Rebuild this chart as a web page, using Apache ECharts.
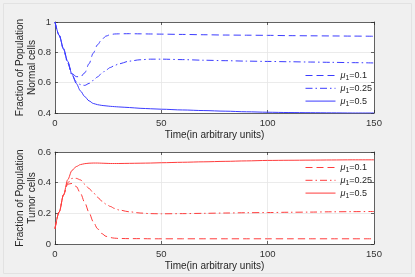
<!DOCTYPE html>
<html>
<head>
<meta charset="utf-8">
<script src="https://cdn.jsdelivr.net/npm/echarts@6/dist/echarts.min.js"></script>
<style>html,body{margin:0;padding:0;background:#f0f0f0;}#c{width:415px;height:277px;}</style>
</head>
<body>
<div id="c"></div>
<script>
var time = [0,2,4,6,8,10,12,14,16,18,20,22,24,26,28,30,35,40,45,50,60,70,80,90,100,110,120,130,140,150];
var normalMu01  = [1.0,0.91,0.82,0.73,0.66,0.64,0.638,0.665,0.725,0.795,0.85,0.885,0.907,0.917,0.921,0.922,0.923,0.922,0.921,0.92,0.918,0.916,0.914,0.913,0.912,0.91,0.909,0.908,0.907,0.906];
var normalMu025 = [1.0,0.91,0.82,0.73,0.65,0.605,0.587,0.582,0.595,0.615,0.638,0.662,0.683,0.70,0.713,0.724,0.742,0.751,0.755,0.755,0.752,0.748,0.745,0.742,0.74,0.738,0.736,0.734,0.732,0.73];
var normalMu05  = [1.0,0.913,0.826,0.74,0.655,0.595,0.545,0.508,0.48,0.463,0.455,0.45,0.447,0.444,0.442,0.44,0.436,0.431,0.428,0.425,0.42,0.416,0.412,0.408,0.405,0.403,0.402,0.401,0.40,0.40];
var tumorMu01   = [0.1,0.21,0.32,0.39,0.395,0.375,0.33,0.27,0.205,0.145,0.1,0.068,0.05,0.042,0.038,0.036,0.035,0.035,0.034,0.034,0.034,0.034,0.034,0.034,0.034,0.034,0.034,0.034,0.034,0.034];
var tumorMu025  = [0.1,0.21,0.32,0.40,0.428,0.428,0.418,0.39,0.362,0.335,0.305,0.28,0.26,0.245,0.232,0.222,0.21,0.202,0.198,0.197,0.198,0.2,0.202,0.204,0.205,0.207,0.208,0.21,0.211,0.212];
var tumorMu05   = [0.1,0.21,0.32,0.42,0.48,0.505,0.518,0.524,0.527,0.528,0.528,0.527,0.526,0.525,0.525,0.525,0.526,0.527,0.528,0.53,0.533,0.536,0.539,0.542,0.545,0.546,0.547,0.548,0.549,0.549];
var muLabels = ['0.1','0.25','0.5'];
var xTicks = {min:0, max:150, interval:50};
var normalTicks = {min:0.4, max:1, interval:0.2};
var tumorTicks = {min:0, max:0.6, interval:0.2};

function pairs(v){ return time.map(function(t,i){ return [t, v[i]]; }); }

var FONT = 'Liberation Sans, Arial, sans-serif';
var AX = '#262626';
var BLUE = '#3c3cff';
var RED = '#ff3c3c';
var DASH = [7,4];
var DASHDOT = [7,3,1.5,3];
var STYLES = [DASH, DASHDOT, 'solid'];

function mainX(gi){
  return {gridIndex:gi, type:'value', min:xTicks.min, max:xTicks.max, interval:xTicks.interval,
    axisLine:{show:true, onZero:false, lineStyle:{color:AX, width:0.7}},
    axisTick:{show:true, inside:true, length:3, lineStyle:{color:AX, width:0.7}},
    axisLabel:{color:'#333', fontSize:9.5, fontFamily:FONT, margin:5},
    splitLine:{show:true, lineStyle:{color:'#e6e6e6', width:0.8}},
    name:'Time(in arbitrary units)', nameLocation:'middle', nameGap:17, nameMoveOverlap:false,
    nameTextStyle:{color:'#262626', fontSize:10, fontFamily:FONT}};
}
function topX(gi){
  return {gridIndex:gi, type:'value', position:'top', min:xTicks.min, max:xTicks.max, interval:xTicks.interval,
    axisLine:{show:true, onZero:false, lineStyle:{color:AX, width:0.7}},
    axisTick:{show:true, inside:true, length:3, lineStyle:{color:AX, width:0.7}},
    axisLabel:{show:false}, splitLine:{show:false}};
}
function mainY(gi, tk, nm){
  return {gridIndex:gi, type:'value', min:tk.min, max:tk.max, interval:tk.interval,
    axisLine:{show:true, onZero:false, lineStyle:{color:AX, width:0.7}},
    axisTick:{show:true, inside:true, length:3, lineStyle:{color:AX, width:0.7}},
    axisLabel:{color:'#333', fontSize:9.5, fontFamily:FONT, margin:4,
      formatter:function(v){ return String(Math.round(v*10)/10); }},
    splitLine:{show:true, lineStyle:{color:'#e6e6e6', width:0.8}},
    name:nm, nameLocation:'middle', nameGap:17, nameMoveOverlap:false,
    nameTextStyle:{color:'#262626', fontSize:10, fontFamily:FONT, lineHeight:12}};
}
function rightY(gi, tk){
  return {gridIndex:gi, type:'value', position:'right', min:tk.min, max:tk.max, interval:tk.interval,
    axisLine:{show:true, onZero:false, lineStyle:{color:AX, width:0.7}},
    axisTick:{show:true, inside:true, length:3, lineStyle:{color:AX, width:0.7}},
    axisLabel:{show:false}, splitLine:{show:false}};
}
function ser(name, gi, data, color, type){
  return {name:name, type:'line', xAxisIndex:gi*2, yAxisIndex:gi*2, data:pairs(data),
    symbol:'none', smooth:0.3, smoothMonotone:'x', silent:true,
    lineStyle:{color:color, width:1, type:type}, itemStyle:{color:color}};
}
var topNames = muLabels.map(function(m){ return 'N' + m; });
var botNames = muLabels.map(function(m){ return 'T' + m; });
function legendFmt(n){ return '{m|μ}{s|1}{t|=' + n.slice(1) + '}'; }
var legendRich = {
  m:{fontSize:9, fontFamily:FONT, color:'#262626', fontStyle:'italic'},
  s:{fontSize:7, fontFamily:FONT, color:'#262626', padding:[5,0,0,0]},
  t:{fontSize:9, fontFamily:FONT, color:'#262626'}
};
function leg(names, top, color){
  return {data:names.map(function(n, i){
      return {name:n, itemStyle:{opacity:0, borderWidth:0}, lineStyle:{color:color, width:1, type:STYLES[i]}};
    }),
    orient:'vertical', left:300, top:top, itemWidth:30, itemHeight:10, itemGap:2.3,
    formatter:legendFmt, textStyle:{rich:legendRich}, selectedMode:false,
    itemStyle:{opacity:0, borderWidth:0}, lineStyle:{width:1}};
}

var chart = echarts.init(document.getElementById('c'), null, {renderer:'canvas'});
chart.setOption({
  backgroundColor:'#f0f0f0',
  animation:false,
  graphic:[{type:'rect', shape:{x:3.5, y:3.5, width:408, height:270}, style:{fill:'none', stroke:'#e2e2e2', lineWidth:1}, silent:true, z:-1}],
  grid:[
    {left:55, top:22, width:319, height:91, show:true, backgroundColor:'#ffffff', borderWidth:0, outerBoundsMode:'none'},
    {left:55, top:152, width:319, height:92, show:true, backgroundColor:'#ffffff', borderWidth:0, outerBoundsMode:'none'}
  ],
  xAxis:[mainX(0), topX(0), mainX(1), topX(1)],
  yAxis:[mainY(0, normalTicks, 'Fraction of Population\nNormal cells'), rightY(0, normalTicks),
         mainY(1, tumorTicks, 'Fraction of Population\nTumor cells'), rightY(1, tumorTicks)],
  legend:[leg(topNames, 66, BLUE), leg(botNames, 158, RED)],
  series:[
    ser(topNames[0], 0, normalMu01, BLUE, DASH),
    ser(topNames[1], 0, normalMu025, BLUE, DASHDOT),
    ser(topNames[2], 0, normalMu05, BLUE, 'solid'),
    ser(botNames[0], 1, tumorMu01, RED, DASH),
    ser(botNames[1], 1, tumorMu025, RED, DASHDOT),
    ser(botNames[2], 1, tumorMu05, RED, 'solid')
  ]
});
</script>
</body>
</html>
